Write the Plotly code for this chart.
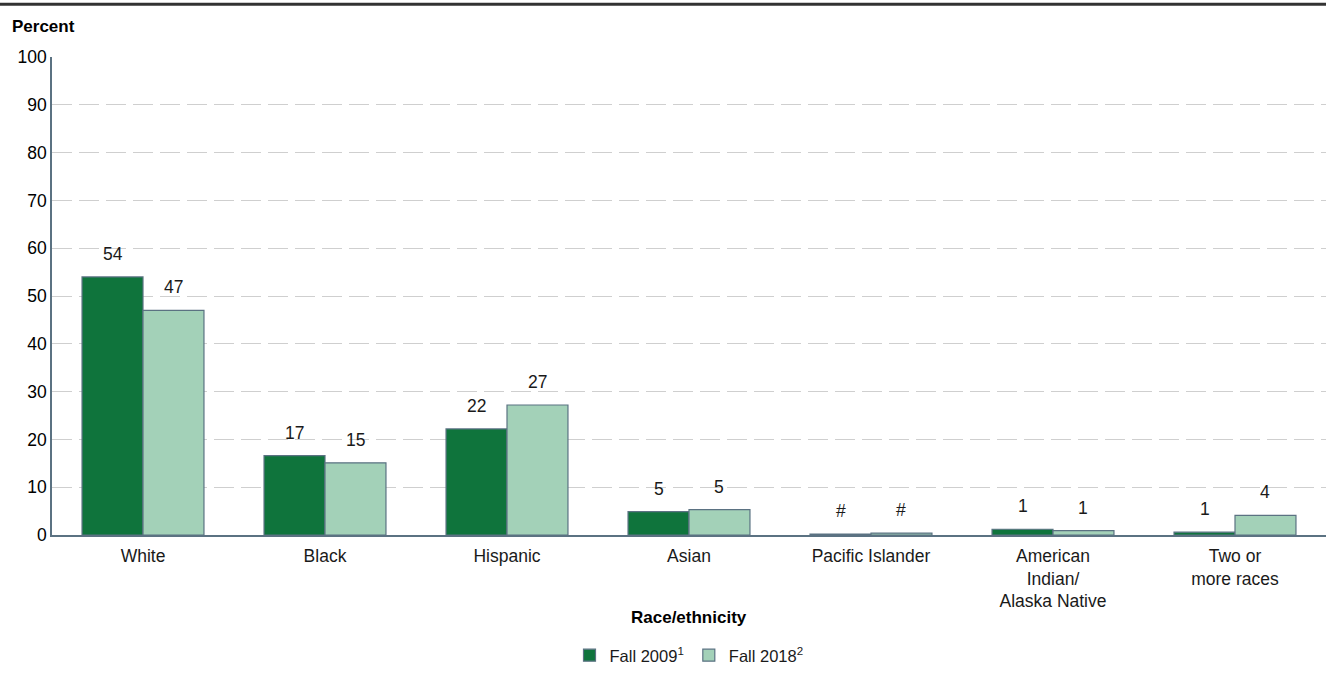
import plotly.graph_objects as go

# Percentage distribution of students by race/ethnicity
categories = ["White", "Black", "Hispanic", "Asian", "Pacific Islander",
              "American<br>Indian/<br>Alaska Native", "Two or<br>more races"]
fall_2009 = [54.0, 16.6, 22.2, 4.9, 0.2, 1.2, 0.6]
fall_2018 = [47.0, 15.1, 27.2, 5.3, 0.4, 0.9, 4.1]
series_names = ["Fall 2009<sup>1</sup>", "Fall 2018<sup>2</sup>"]
y_ticks = [0, 10, 20, 30, 40, 50, 60, 70, 80, 90, 100]

DARK = "#0f743c"
LIGHT = "#a3d1b8"
EDGE = "#5b7282"
FONT = "Liberation Sans, Arial, sans-serif"
TXT = 17.5

W, H = 1326, 673
M_L, M_R, M_T, M_B = 52, 0, 57, 136
plot_h = H - M_T - M_B
plot_w = W - M_L - M_R
BARGAP = 0.33


def label(v):
    r = round(v)
    return "#" if r == 0 else str(r)


fig = go.Figure()
for name, vals, color in [(series_names[0], fall_2009, DARK),
                          (series_names[1], fall_2018, LIGHT)]:
    fig.add_trace(go.Bar(
        x=categories, y=vals, name=name,
        marker=dict(color=color, line=dict(color=EDGE, width=1.2)),
        hoverinfo="skip",
    ))

# value labels above each bar
slot = plot_w / len(categories)
bar_w = slot * (1 - BARGAP) / 2
for k, vals in enumerate([fall_2009, fall_2018]):
    shift = (-0.5 if k == 0 else 0.5) * bar_w
    for c, v in zip(categories, vals):
        fig.add_annotation(
            x=c, y=v, text=label(v), showarrow=False,
            xshift=shift, yshift=11, yanchor="bottom",
            font=dict(family=FONT, size=TXT, color="#1a1a1a"),
        )

# heavy rule across the top
fig.add_shape(type="line", xref="paper", yref="paper",
              x0=-M_L / plot_w, x1=1, y0=1 + (M_T - 4) / plot_h, y1=1 + (M_T - 4) / plot_h,
              line=dict(color="#333333", width=3))

fig.add_annotation(
    xref="paper", yref="paper", x=(10 - M_L) / plot_w, y=1 + (M_T - 26) / plot_h,
    xanchor="left", yanchor="middle", showarrow=False,
    text="<b>Percent</b>", font=dict(family=FONT, size=17, color="#000"),
)
fig.add_annotation(
    xref="paper", yref="paper", x=0.5, y=-(620 - (M_T + plot_h)) / plot_h,
    xanchor="center", yanchor="middle", showarrow=False,
    text="<b>Race/ethnicity</b>", font=dict(family=FONT, size=17, color="#000"),
)

fig.update_layout(
    width=W, height=H,
    margin=dict(l=M_L, r=M_R, t=M_T, b=M_B),
    paper_bgcolor="white", plot_bgcolor="white",
    barmode="group", bargap=BARGAP, bargroupgap=0,
    font=dict(family=FONT, size=TXT, color="#1a1a1a"),
    showlegend=True,
    legend=dict(
        orientation="h", x=0.5, xanchor="center",
        y=-(658 - (M_T + plot_h)) / plot_h, yanchor="middle",
        font=dict(family=FONT, size=16.5, color="#1a1a1a"),
        itemwidth=30, traceorder="normal",
    ),
    xaxis=dict(
        showline=True, linecolor=EDGE, linewidth=1.5,
        showgrid=False, ticks="", tickfont=dict(size=TXT),
        ticklabelstandoff=4,
    ),
    yaxis=dict(
        range=[0, 100], tickvals=y_ticks, showline=True, linecolor=EDGE, linewidth=1.5,
        showgrid=True, gridcolor="#cfcfcf", griddash="20px,7px", gridwidth=1,
        zeroline=False, ticks="", tickfont=dict(size=TXT, color="#000"),
    ),
)

fig.write_html("out.html")
